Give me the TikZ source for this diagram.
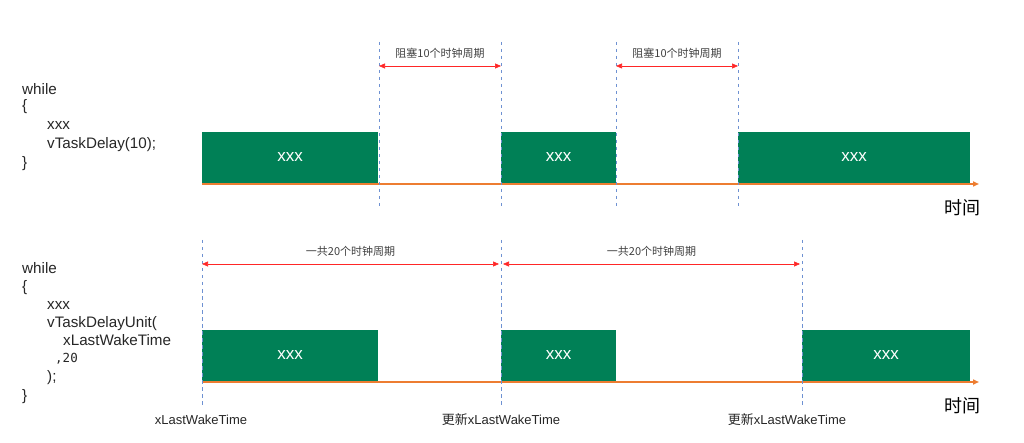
\documentclass[tikz,border=0pt]{standalone}
\usepackage{fontspec}
\setmainfont{Liberation Sans}
\newfontfamily\cjk{Noto Sans CJK SC}
\newfontfamily\monof{DejaVu Sans Mono}
\usetikzlibrary{arrows.meta}
\definecolor{boxgreen}{RGB}{0,128,86}
\definecolor{tline}{RGB}{237,125,49}
\definecolor{dashblue}{RGB}{110,145,210}
\begin{document}
\begin{tikzpicture}[x=1pt,y=-1pt,
  task/.style={fill=boxgreen,draw=none,inner sep=0pt,text=white,font=\fontsize{17}{19}\selectfont},
  vline/.style={draw=dashblue,line width=0.9pt,dash pattern=on 3.5pt off 3.5pt},
  span/.style={draw=red!85,line width=0.6pt,{Triangle[length=6pt,width=5pt]}-{Triangle[length=6pt,width=5pt]}},
  spanlbl/.style={font=\cjk\fontsize{11}{13}\selectfont,text=black!75},
  axis/.style={draw=tline,line width=1.8pt,-{Triangle[length=6pt,width=5pt]}},
  code/.style={anchor=base west,inner sep=0pt,font=\fontsize{15.2}{17}\selectfont,text=black!85},
  timelbl/.style={font=\cjk\fontsize{18}{20}\selectfont},
  wakelbl/.style={font=\fontsize{13}{15}\selectfont,text=black!85}]
\useasboundingbox (0,0) rectangle (1024,443);
% ---------- top ----------
\node[code] (c1) at (22,95) {while};
\node[code] (c2) at (22,111) {\{};
\node[code] (c3) at (47,130) {xxx};
\node[code] (c4) at (47,149) {vTaskDelay(10);};
\node[code] (c5) at (22,168) {\}};
\node[task,minimum width=176pt,minimum height=51pt] (a1) at (290,157.5) {xxx};
\node[task,minimum width=115pt,minimum height=51pt] (a2) at (558.5,157.5) {xxx};
\node[task,minimum width=232pt,minimum height=51pt] (a3) at (854,157.5) {xxx};
\coordinate (ts) at (202,184);
\coordinate (te) at (979,184);
\draw[axis] (ts) -- (te);
\node[timelbl] (t1) at (962,208) {时间};
\foreach \n/\x in {p1/379,p2/501,p3/616,p4/738}{
  \coordinate (\n t) at (\x,42);
  \coordinate (\n b) at (\x,210);
  \draw[vline] (\n t) -- (\n b);
  \coordinate (\n m) at (\x,66);
}
\draw[span] (p1m) -- (p2m) node[midway,spanlbl,above=4pt] (l1) {阻塞10个时钟周期};
\draw[span] (p3m) -- (p4m) node[midway,spanlbl,above=4pt] (l2) {阻塞10个时钟周期};
% ---------- bottom ----------
\node[code] (d1) at (22,273) {while};
\node[code] (d2) at (22,291) {\{};
\node[code] (d3) at (47,309) {xxx};
\node[code] (d4) at (47,327) {vTaskDelayUnit(};
\node[code] (d5) at (63,345) {xLastWakeTime};
\node[code,font=\monof\fontsize{12.5}{14}\selectfont] (d6) at (55,362) {,20};
\node[code] (d7) at (47,381) {);};
\node[code] (d8) at (22,400) {\}};
\node[task,minimum width=176pt,minimum height=51pt] (b1) at (290,355.5) {xxx};
\node[task,minimum width=115pt,minimum height=51pt] (b2) at (558.5,355.5) {xxx};
\node[task,minimum width=168pt,minimum height=51pt] (b3) at (886,355.5) {xxx};
\coordinate (us) at (202,382);
\coordinate (ue) at (979,382);
\draw[axis] (us) -- (ue);
\node[timelbl] (t2) at (962,406) {时间};
\foreach \n/\x in {q1/202,q2/501,q3/802}{
  \coordinate (\n t) at (\x,240);
  \coordinate (\n b) at (\x,406);
  \draw[vline] (\n t) -- (\n b);
}
\coordinate (r1a) at (202,264);
\coordinate (r1b) at (499,264);
\coordinate (r2a) at (503,264);
\coordinate (r2b) at (800,264);
\draw[span] (r1a) -- (r1b) node[midway,spanlbl,above=4pt] (m1) {一共20个时钟周期};
\draw[span] (r2a) -- (r2b) node[midway,spanlbl,above=4pt] (m2) {一共20个时钟周期};
\node[wakelbl] (w1) at (201,420) {xLastWakeTime};
\node[wakelbl] (w2) at (501,420) {{\cjk 更新}xLastWakeTime};
\node[wakelbl] (w3) at (787,420) {{\cjk 更新}xLastWakeTime};
\end{tikzpicture}
\end{document}
